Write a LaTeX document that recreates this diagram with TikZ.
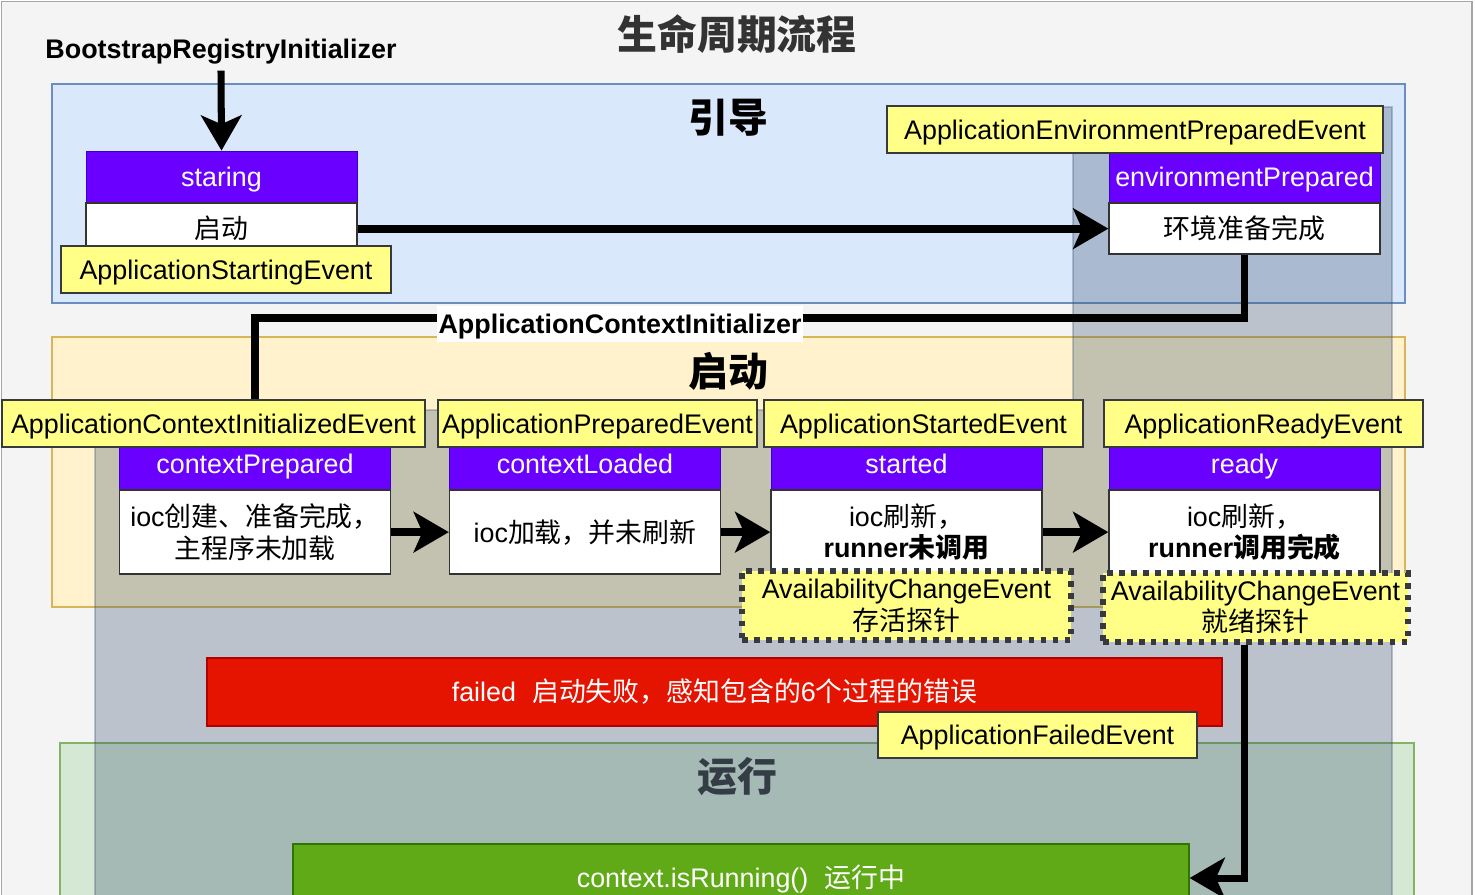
\documentclass[tikz,border=0pt]{standalone}
\usepackage{fontspec}
\setmainfont{Liberation Sans}
\newfontfamily\cjk{Noto Sans CJK SC}
\usetikzlibrary{arrows.meta,positioning}

\definecolor{canvas}{HTML}{F4F4F4}
\definecolor{titlegray}{HTML}{333333}
\definecolor{introblue}{HTML}{DAE8FC}
\definecolor{introline}{HTML}{6C8EBF}
\definecolor{bootcream}{HTML}{FFF2CC}
\definecolor{bootline}{HTML}{D6B656}
\definecolor{rungreen}{HTML}{D5E8D4}
\definecolor{runline}{HTML}{82B366}
\definecolor{stagepurple}{HTML}{6A00FF}
\definecolor{stageline}{HTML}{3700CC}
\definecolor{eventyellow}{HTML}{FFFF88}
\definecolor{eventline}{HTML}{36393D}
\definecolor{failred}{HTML}{E51400}
\definecolor{failline}{HTML}{B20000}
\definecolor{okgreen}{HTML}{60A917}
\definecolor{okline}{HTML}{2D7600}
\definecolor{shade}{RGB}{57,81,111}

\newcommand{\zh}[1]{{\cjk #1}}

\begin{document}
\begin{tikzpicture}[x=0.02cm, y=-0.02cm,
  every node/.style={font=\fontsize{15.3}{18}\selectfont, inner sep=0pt, align=center,
    text height=14.8pt, text depth=3.8pt},
  twolines/.style={text height=, text depth=},
  zone/.style={draw=#1, line width=0.8pt},
  heading/.style={font=\fontsize{22.7}{26}\selectfont\cjk\bfseries,
    text height=21.9pt, text depth=5.7pt},
  hdr/.style={fill=stagepurple, draw=stageline, line width=0.5pt, text=white,
    minimum width=5.42cm, minimum height=1.02cm},
  topbody/.style={fill=white, draw=black!80, line width=0.8pt,
    minimum width=5.42cm, minimum height=1.02cm},
  midbody/.style={topbody, twolines, minimum height=1.68cm},
  evt/.style={fill=eventyellow, draw=eventline, line width=1pt,
    minimum width=6.38cm, minimum height=0.94cm},
  probe/.style={fill=eventyellow, draw=eventline, line width=3.2pt, twolines,
    dash pattern=on 3.2pt off 3.6pt, minimum height=1.38cm},
  flow/.style={line width=4.5pt, -{Stealth[length=20pt, width=23pt, inset=5pt]}},
  link/.style={line width=4pt},
]
\clip (0,0) rectangle (1475,894);
\draw[draw=black!35, fill=canvas, line width=1pt] (1.5,1.5) rectangle (1472,950);

% sections
\draw[zone=introline, fill=introblue] (52,84) rectangle (1405,303);
\draw[zone=bootline, fill=bootcream] (52,337) rectangle (1405,607);
\draw[zone=runline, fill=rungreen] (60,743) rectangle (1414,950);
\node[heading, text=titlegray] (title) at (737,35) {生命周期流程};
\node[heading] (introtitle) at (728,118) {引导};
\node[heading] (boottitle) at (728,372) {启动};
\node[heading, text=titlegray] (runtitle) at (737,777) {运行};

% shaded listener area
\filldraw[fill=shade, fill opacity=0.3, draw=shade, draw opacity=0.3, line width=0.6pt]
  (1073,107) -- (1392,107) -- (1392,950) -- (95,950) -- (95,410) -- (1073,410) -- cycle;

% bootstrap
\node[font=\fontsize{15.3}{18}\selectfont\bfseries, outer sep=3pt] (bootinit) at (221,49) {BootstrapRegistryInitializer};
\node[hdr] (starth) at (221.5,176.5) {staring};
\node[topbody, below=0pt of starth] (startb) {\zh{启动}};
\node[evt, minimum width=6.6cm] (startev) at (226,269.5) {ApplicationStartingEvent};

\node[hdr] (envh) at (1244.5,176.5) {environmentPrepared};
\node[topbody, below=0pt of envh] (envb) {\zh{环境准备完成}};
\node[evt, minimum width=9.92cm] (envev) at (1135,129.5) {ApplicationEnvironmentPreparedEvent};

% context stages
\node[hdr] (preph) at (255,463.5) {contextPrepared};
\node[midbody, below=0pt of preph] (prepb) {ioc\zh{创建、准备完成，}\\\zh{主程序未加载}};
\node[hdr] (loadh) at (585,463.5) {contextLoaded};
\node[midbody, below=0pt of loadh] (loadb) {ioc\zh{加载，并未刷新}};
\node[hdr] (stah) at (906.5,463.5) {started};
\node[midbody, below=0pt of stah] (stab) {ioc\zh{刷新，}\\\textbf{runner\zh{未调用}}};
\node[hdr] (readyh) at (1244.5,463.5) {ready};
\node[midbody, below=0pt of readyh] (readyb) {ioc\zh{刷新，}\\\textbf{runner\zh{调用完成}}};

\node[evt, minimum width=8.46cm] (initev) at (213.5,423.5) {ApplicationContextInitializedEvent};
\node[evt] (prepev) at (597.5,423.5) {ApplicationPreparedEvent};
\node[evt] (staev) at (923.5,423.5) {ApplicationStartedEvent};
\node[evt] (readyev) at (1263.5,423.5) {ApplicationReadyEvent};

\node[probe, minimum width=6.58cm] (liveprobe) at (906.5,605.5) {AvailabilityChangeEvent\\\zh{存活探针}};
\node[probe, minimum width=6.1cm] (readyprobe) at (1255.5,607.5) {AvailabilityChangeEvent\\\zh{就绪探针}};

% failure and running
\node[fill=failred, draw=failline, line width=0.8pt, text=white, minimum width=20.3cm, minimum height=1.36cm]
  (failed) at (714.5,692) {failed\hspace{0.6em}\zh{启动失败，感知包含的}6\zh{个过程的错误}};
\node[evt, minimum height=0.92cm] (failev) at (1037.5,735) {ApplicationFailedEvent};
\node[fill=okgreen, draw=okline, line width=0.8pt, text=white, minimum width=17.92cm, minimum height=1.36cm]
  (running) at (741,878) {context.isRunning()\hspace{0.6em}\zh{运行中}};

% connectors
\draw[flow, line width=4pt] (bootinit.south) -- (starth.north);
\draw[flow] (startb) -- (envb);
\draw[link] (envb.south) |- (preph.north |- 0,318) -- (initev.north -| preph.north);
\node[fill=white, font=\fontsize{15.3}{18}\selectfont\bfseries, inner xsep=1pt, inner ysep=1pt]
  (ctxinit) at (620,324) {ApplicationContextInitializer};
\draw[flow] (prepb) -- (loadb);
\draw[flow] (loadb) -- (stab);
\draw[flow] (stab) -- (readyb);
\draw[link, -{Stealth[length=20pt, width=23pt, inset=5pt]}] (readyprobe.south -| readyb.south) |- (running.east);
\end{tikzpicture}
\end{document}
